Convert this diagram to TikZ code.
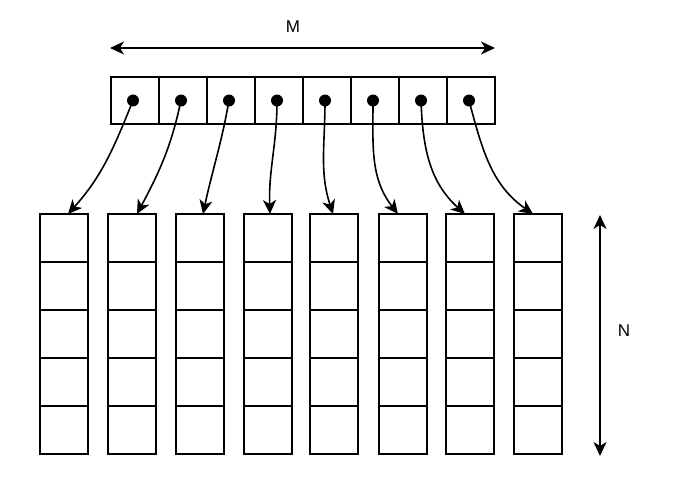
\documentclass[tikz,border=0pt]{standalone}
\usepackage{fontspec}
\setmainfont{Liberation Sans}
\usetikzlibrary{arrows.meta}
\newcommand{\lblfont}{\fontsize{17}{20}\selectfont}
\begin{document}
\begin{tikzpicture}[x=1pt,y=-1pt,
  cell/.style={draw, line width=1.7pt, minimum width=48pt, minimum height=48pt, inner sep=0pt, outer sep=0pt},
  dot/.style={circle, fill, inner sep=0pt, minimum size=12pt},
  link/.style={line width=1.6pt, -{Stealth[length=14pt,width=13pt,inset=4pt]}},
  dim/.style={line width=1.6pt, {Stealth[length=14pt,width=13pt,inset=4pt]}-{Stealth[length=14pt,width=13pt,inset=4pt]}},
  lbl/.style={inner sep=0pt}]
\useasboundingbox (0,0) rectangle (674,500);
% top array
\foreach \i in {1,...,8}{
  \node[cell, minimum height=47pt] (t\i) at ({111+48*(\i-0.5)},100.5) {};
  \node[dot, xshift=-2pt] (d\i) at (t\i) {};
}
% columns
\foreach \i/\cx in {1/64,2/132,3/200,4/268,5/334,6/403,7/470,8/538}{
  \foreach \j in {1,...,5}{
    \node[cell] (c\i\j) at (\cx,{214+48*(\j-0.5)}) {};
  }
}
% links
\draw[link] (d1.center) to[out=-112,in=48] ([xshift=4pt]c11.north);
\draw[link] (d2.center) to[out=-102,in=62] ([xshift=5pt]c21.north);
\draw[link] (d3.center) to[out=-100,in=78] ([xshift=3pt]c31.north);
\draw[link] (d4.center) to[out=-90,in=92] ([xshift=2pt]c41.north);
\draw[link] (d5.center) to[out=-90,in=108] ([xshift=-1pt]c51.north);
\draw[link] (d6.center) to[out=-90,in=128] ([xshift=-5pt]c61.north);
\draw[link] (d7.center) to[out=-88,in=138] ([xshift=-5pt]c71.north);
\draw[link] (d8.center) to[out=-75,in=145] ([xshift=-5pt]c81.north);
% dimensions
\coordinate (ml) at (110,48);
\coordinate (mr) at (495,48);
\draw[dim] (ml) -- (mr);
\node[lbl] (M) at (293,27) {\lblfont M};
\coordinate (nt) at (600,215);
\coordinate (nb) at (600,456);
\draw[dim] (nt) -- (nb);
\node[lbl] (N) at (624,331) {\lblfont N};
\end{tikzpicture}
\end{document}
